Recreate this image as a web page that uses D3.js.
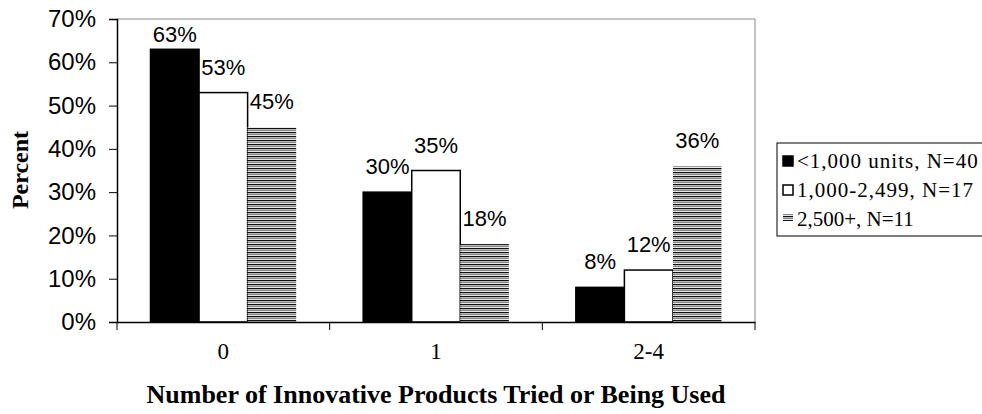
<!DOCTYPE html>
<html>
<head>
<meta charset="utf-8">
<script src="https://cdn.jsdelivr.net/npm/d3@7"></script>
<style>
  body { margin: 0; background: #fff; }
  svg { display: block; }
</style>
</head>
<body>
<div id="chart"></div>
<script>
"use strict";

// === DATA ===
const categories = ["0", "1", "2-4"];
const seriesNames = ["<1,000 units, N=40", "1,000-2,499, N=17", "2,500+, N=11"];
const small = [63, 30, 8];
const medium = [53, 35, 12];
const large = [45, 18, 36];
const yTicks = [0, 10, 20, 30, 40, 50, 60, 70];

const seriesValues = [small, medium, large];

// === SVG SETUP ===
const svgWidth = 982, svgHeight = 414;
const plot = { left: 117, top: 19, right: 755, bottom: 322 };

const svg = d3.select("#chart")
  .append("svg")
  .attr("width", svgWidth)
  .attr("height", svgHeight);

// stripe pattern for the third series
const defs = svg.append("defs");
const pat = defs.append("pattern")
  .attr("id", "stripes")
  .attr("patternUnits", "userSpaceOnUse")
  .attr("width", 8)
  .attr("height", 4);
pat.append("rect").attr("width", 8).attr("height", 4).attr("fill", "#fff");
pat.append("rect").attr("y", 0).attr("width", 8).attr("height", 1.3).attr("fill", "#111");
pat.append("rect").attr("y", 2).attr("width", 8).attr("height", 1.2).attr("fill", "#888");

const fills = ["#000", "#fff", "url(#stripes)"];
const strokes = ["#000", "#000", "none"];

// === SCALES ===
const x0 = d3.scaleBand()
  .domain(categories)
  .range([plot.left, plot.right]);

const x1 = d3.scaleBand()
  .domain(d3.range(seriesNames.length))
  .range([0, x0.bandwidth()])
  .paddingInner(0)
  .paddingOuter(0.69);

const y = d3.scaleLinear()
  .domain([0, 70])
  .range([plot.bottom, plot.top]);

// === PLOT FRAME (top + right in grey) ===
svg.append("path")
  .attr("d", `M${plot.left},${plot.top}H${plot.right}V${plot.bottom}`)
  .attr("fill", "none")
  .attr("stroke", "#888")
  .attr("stroke-width", 1);

// === BARS ===
categories.forEach((c, ci) => {
  seriesValues.forEach((vals, si) => {
    svg.append("rect")
      .attr("x", x0(c) + x1(si))
      .attr("y", y(vals[ci]))
      .attr("width", x1.bandwidth())
      .attr("height", y(0) - y(vals[ci]))
      .attr("fill", fills[si])
      .attr("stroke", strokes[si])
      .attr("stroke-width", 1.5);
  });
});

// === DATA LABELS ===
categories.forEach((c, ci) => {
  seriesValues.forEach((vals, si) => {
    const top = y(vals[ci]);
    svg.append("text")
      .attr("x", x0(c) + x1(si) + x1.bandwidth() / 2)
      .attr("y", Math.max(top - 18, plot.top + 23))
      .attr("text-anchor", "middle")
      .attr("font-family", "Liberation Sans, Arial, sans-serif")
      .attr("font-size", "22px")
      .attr("fill", "#000")
      .text(vals[ci] + "%");
  });
});

// === AXES ===
const yAxis = d3.axisLeft(y)
  .tickValues(yTicks)
  .tickSize(8)
  .tickPadding(13)
  .tickFormat(d => d + "%");

const gy = svg.append("g")
  .attr("transform", `translate(${plot.left},0)`)
  .call(yAxis);
gy.select(".domain").attr("stroke", "#000").attr("stroke-width", 1.5);
gy.selectAll(".tick line").attr("stroke", "#000");
gy.selectAll("text")
  .attr("font-family", "Liberation Sans, Arial, sans-serif")
  .attr("font-size", "24px")
  .attr("fill", "#000");

const xAxis = d3.axisBottom(x0)
  .tickSize(0)
  .tickPadding(21)
  .tickSizeOuter(0);

const gx = svg.append("g")
  .attr("transform", `translate(0,${plot.bottom})`)
  .call(xAxis);
gx.select(".domain").attr("stroke", "#000").attr("stroke-width", 1.5);
gx.selectAll("text")
  .attr("font-family", "Liberation Serif, Times New Roman, serif")
  .attr("font-size", "23px")
  .attr("fill", "#000");

// category separators on the x axis
const sepTicks = categories.map(c => x0(c)).concat([plot.right]);
svg.selectAll(".sep")
  .data(sepTicks)
  .enter()
  .append("line")
  .attr("x1", d => d)
  .attr("x2", d => d)
  .attr("y1", plot.bottom)
  .attr("y2", plot.bottom + 8)
  .attr("stroke", "#000");

// === AXIS TITLES ===
svg.append("text")
  .attr("x", (plot.left + plot.right) / 2)
  .attr("y", 403)
  .attr("text-anchor", "middle")
  .attr("font-family", "Liberation Serif, Times New Roman, serif")
  .attr("font-weight", "bold")
  .attr("font-size", "26px")
  .text("Number of Innovative Products Tried or Being Used");

svg.append("text")
  .attr("transform", "rotate(-90)")
  .attr("x", -170)
  .attr("y", 28)
  .attr("text-anchor", "middle")
  .attr("font-family", "Liberation Serif, Times New Roman, serif")
  .attr("font-weight", "bold")
  .attr("font-size", "24px")
  .text("Percent");

// === LEGEND ===
const legX = 777, legY = 143, legRow = 29;

svg.append("rect")
  .attr("x", legX)
  .attr("y", legY)
  .attr("width", 230)
  .attr("height", 93)
  .attr("fill", "#fff")
  .attr("stroke", "#000")
  .attr("stroke-width", 1);

seriesNames.forEach((name, i) => {
  const cy = legY + 18 + i * legRow;
  svg.append("rect")
    .attr("x", legX + 6)
    .attr("y", cy - 5)
    .attr("width", 10)
    .attr("height", i === 2 ? 7 : 10)
    .attr("fill", fills[i])
    .attr("stroke", strokes[i])
    .attr("stroke-width", 1.5);

  svg.append("text")
    .attr("x", legX + 20)
    .attr("y", cy + 7)
    .attr("font-family", "Liberation Serif, Times New Roman, serif")
    .attr("font-size", "21px")
    .attr("letter-spacing", i === 2 ? "0px" : "1px")
    .attr("fill", "#000")
    .text(name);
});
</script>
</body>
</html>
